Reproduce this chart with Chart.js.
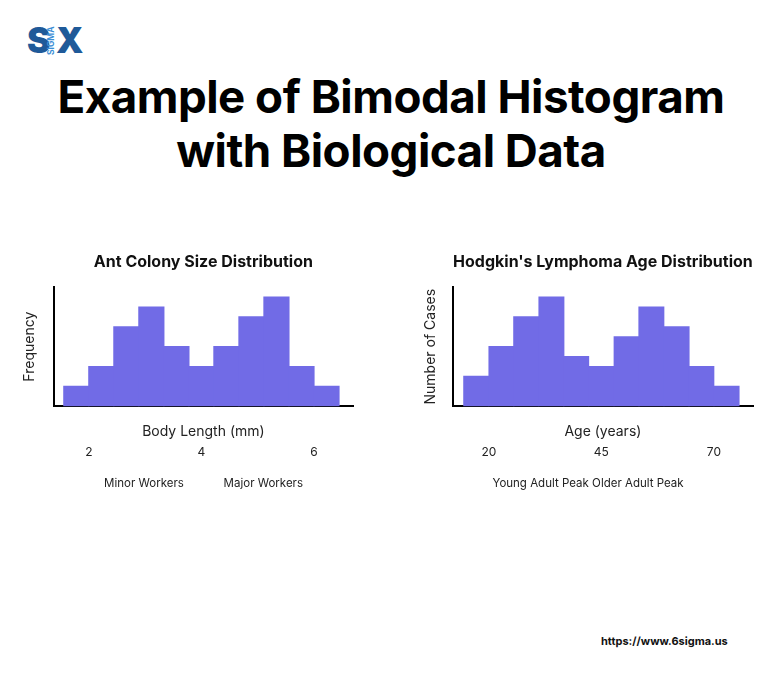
<!DOCTYPE html>
<html>
<head>
<meta charset="utf-8">
<script src="https://cdn.jsdelivr.net/npm/chart.js@4.4.1/dist/chart.umd.min.js"></script>
<style>
  html, body { margin: 0; padding: 0; background: #ffffff; }
  body { width: 782px; height: 687px; position: relative; overflow: hidden; font-family: Inter, "Noto Sans", sans-serif; }
  .logoL { position: absolute; top: 23px; font: 900 35px/35px Inter, sans-serif; color: #1f5a99; }
  #logoSig { position: absolute; left: 47px; top: 27px; height: 28px; font: 700 8.5px/9px Inter, sans-serif; color: #3d8fd6; writing-mode: vertical-rl; transform: rotate(180deg); text-align: center; }
  #title { position: absolute; left: 0; width: 782px; top: 70px; text-align: center; font: 700 45.7px/54px Inter, sans-serif; color: #000; letter-spacing: -0.5px; }
  .cw { position: absolute; top: 240px; height: 270px; }
  #footer { position: absolute; left: 601px; top: 634px; font: 700 11px Inter, sans-serif; color: #111; }
</style>
</head>
<body>
<div class="logoL" style="left:27px;">S</div>
<div id="logoSig">SIGMA</div>
<div class="logoL" style="left:56px;">X</div>
<div id="title">Example of Bimodal Histogram<br>with Biological Data</div>
<div class="cw" style="left:0px;width:391px;"><canvas id="c1"></canvas></div>
<div class="cw" style="left:391px;width:391px;"><canvas id="c2"></canvas></div>
<div id="footer">https://www.6sigma.us</div>
<script>
// ---- Data ----
// Ant colony: bin centres (mm) and frequency
const antBinCenters = [1.778, 2.222, 2.667, 3.111, 3.556, 4.0, 4.444, 4.889, 5.333, 5.778, 6.222];
const antFrequency = [1, 2, 4, 5, 3, 2, 3, 4.5, 5.5, 2, 1];
const antTickLabels = ['2', '4', '6'];
const antTickValues = [2, 4, 6];
const antGroups = ['Minor Workers', 'Major Workers'];

// Hodgkin's lymphoma: bin centres (years) and number of cases
const hlBinCenters = [17.2, 22.8, 28.3, 33.9, 39.4, 45.0, 50.6, 56.1, 61.7, 67.2, 72.8];
const hlCases = [1.5, 3, 4.5, 5.5, 2.5, 2, 3.5, 5, 4, 2, 1];
const hlTickLabels = ['20', '45', '70'];
const hlTickValues = [20, 45, 70];
const hlGroups = ['Young Adult Peak', 'Older Adult Peak'];

const BAR_COLOR = '#716be6';
const FONT = 'Inter, "Noto Sans", sans-serif';

// Plugin drawing tick labels and group labels below the x-axis title
const belowAxisPlugin = {
  id: 'belowAxis',
  afterDraw(chart, args, opts) {
    const ctx = chart.ctx;
    const area = chart.chartArea;
    const x = chart.scales.x;
    ctx.save();
    ctx.fillStyle = '#222';
    ctx.textBaseline = 'middle';
    ctx.textAlign = 'center';
    ctx.font = '12px ' + FONT;
    opts.tickValues.forEach((v, i) => {
      ctx.fillText(opts.tickLabels[i], x.getPixelForValue(v), area.bottom + opts.tickOffset);
    });
    ctx.font = '11.5px ' + FONT;
    opts.groups.forEach((lab, i) => {
      ctx.fillText(lab, x.getPixelForValue(opts.groupAt[i]), area.bottom + opts.groupOffset);
    });
    ctx.restore();
  }
};

function makeChart(cfg) {
  const data = cfg.centers.map((c, i) => ({ x: c, y: cfg.values[i] }));
  return new Chart(document.getElementById(cfg.id), {
    type: 'bar',
    data: {
      datasets: [{ data: data, backgroundColor: BAR_COLOR, borderWidth: 0, inflateAmount: 0.6, barPercentage: 1, categoryPercentage: 1 }]
    },
    options: {
      responsive: true,
      maintainAspectRatio: false,
      animation: false,
      layout: { padding: { left: cfg.padLeft, right: cfg.padRight, top: 0, bottom: 70 } },
      plugins: {
        legend: { display: false },
        tooltip: { enabled: false },
        title: { display: true, fullSize: false, text: cfg.title, color: '#111', font: { family: FONT, size: 16, weight: 'bold' }, padding: { top: 13, bottom: 15 } },
        belowAxis: { tickLabels: cfg.tickLabels, tickValues: cfg.tickValues, tickOffset: 46, groups: cfg.groups, groupAt: cfg.groupAt, groupOffset: 77 }
      },
      scales: {
        x: {
          type: 'linear', min: cfg.xMin, max: cfg.xMax, offset: false, bounds: 'data',
          afterBuildTicks: (s) => { s.ticks = cfg.tickValues.map(v => ({ value: v })); },
          grid: { display: false, drawTicks: false },
          border: { display: true, color: '#000', width: 2 },
          ticks: { display: false },
          title: { display: true, text: cfg.xTitle, color: '#222', font: { family: FONT, size: 14 }, padding: { top: 17, bottom: 0 } }
        },
        y: {
          min: 0, max: 6,
          grid: { display: false, drawTicks: false },
          border: { display: true, color: '#000', width: 2 },
          ticks: { display: false },
          title: { display: true, text: cfg.yTitle, color: '#222', font: { family: FONT, size: 14 }, padding: { top: 0, bottom: cfg.yTitlePad } }
        }
      }
    },
    plugins: [belowAxisPlugin]
  });
}

makeChart({ id: 'c1', centers: antBinCenters, values: antFrequency, title: 'Ant Colony Size Distribution',
  yTitle: 'Frequency', xTitle: 'Body Length (mm)', tickLabels: antTickLabels, tickValues: antTickValues,
  xMin: 1.378, xMax: 6.693, groups: antGroups, groupAt: [2.98, 5.10], padLeft: 21, padRight: 38, yTitlePad: 16 });
makeChart({ id: 'c2', centers: hlBinCenters, values: hlCases, title: "Hodgkin's Lymphoma Age Distribution",
  yTitle: 'Number of Cases', xTitle: 'Age (years)', tickLabels: hlTickLabels, tickValues: hlTickValues,
  xMin: 12.0, xMax: 78.67, groups: hlGroups, groupAt: [31.5, 53.1], padLeft: 31, padRight: 29, yTitlePad: 14 });
</script>
</body>
</html>
